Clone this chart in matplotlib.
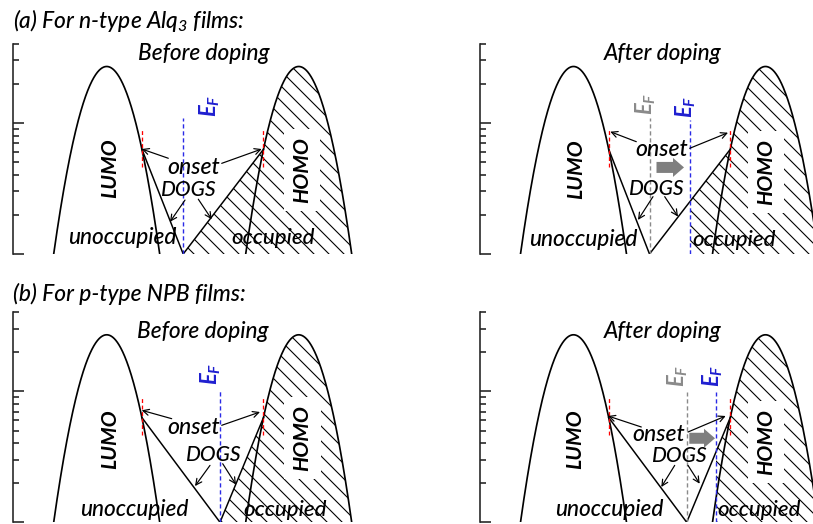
import numpy as np
import matplotlib
matplotlib.use('Agg')
import matplotlib.pyplot as plt
from matplotlib.ticker import LogLocator, NullFormatter

W, H, DPI = 813, 524, 90


def P(px):
    """pixels -> points"""
    return px * 72.0 / DPI


plt.rcParams['font.family'] = ['Lato', 'DejaVu Sans']
plt.rcParams['mathtext.fontset'] = 'custom'
plt.rcParams['mathtext.rm'] = 'Lato:italic:medium'
plt.rcParams['mathtext.it'] = 'Lato:italic:bold'
plt.rcParams['mathtext.bf'] = 'Lato:bold'
plt.rcParams['hatch.linewidth'] = P(1.1)

# ---------------- data (energy in arbitrary units, DOS on log scale) ----------------
row_titles = [r'(a) For n-type Alq$_{3}$ films:', '(b) For p-type NPB films:']
panel_titles = ['Before doping', 'After doping', 'Before doping', 'After doping']
LUMO_CENTER = 94.0
HOMO_CENTER = 286.0
PEAK_DOS = 27.0
HALF_BASE = 53.0          # peak-to-edge distance where DOS falls to the axis minimum
ONSET_DOS = 6.3
V_BOTTOM = [170.5, 170.0, 207.3, 207.2]       # minimum of the gap states (DOGS)
EF_NEW = [170.5, 210.5, 207.3, 236.5]         # Fermi level
EF_OLD = [None, 170.0, None, 207.2]           # Fermi level before doping
Y_MIN, Y_MAX = 1.0, 40.0
X_MAX = 350.0

# ---------------- layout ----------------
W_TXT = 'medium'
FS_TITLE = P(22.8)
FS_PANEL = P(22.6)
FS_ONSET = P(23.0)
FS_DOGS = P(21.0)
FS_UNOCC = P(22.6)
FS_OCC = P(22.3)
FS_ORB = P(21.3)
FS_EF = P(22.0)

SIGMA2 = HALF_BASE ** 2 / (2 * np.log(PEAK_DOS))


def gauss(x, c):
    return PEAK_DOS * np.exp(-(x - c) ** 2 / (2 * SIGMA2))


d_on = np.sqrt(2 * SIGMA2 * np.log(PEAK_DOS / ONSET_DOS))
LUMO_ON = LUMO_CENTER + d_on
HOMO_ON = HOMO_CENTER - d_on

panel_px = [(12.7, 254.0), (479.5, 254.0), (12.7, 522.3), (479.5, 522.3)]
DEC = 131.0
height_px = DEC * np.log10(Y_MAX / Y_MIN)

title_pos = [(190.6, 34.0), (183.5, 34.0), (189.8, 28.8), (183.5, 28.8)]
ef_new_lab = [(197.5, 13.5), (206.5, 13.3), (197.8, 13.6), (233.0, 13.0)]
ef_old_lab = [None, (166.0, 13.9), None, (198.0, 13.0)]
ef_new_top = [10.9, 10.5, 10.47, 9.93]
ef_old_top = [None, 10.9, None, 9.93]
lumo_lab = [(97.3, 4.53), (96.8, 4.45), (97.3, 4.29), (96.0, 4.29)]
homo_lab = [(289.0, 4.38), (286.8, 4.20), (289.8, 4.40), (286.8, 4.10)]
onset_lab = [(180.6, 4.61), (181.8, 6.33), (180.6, 5.26), (179.3, 4.68)]
dogs_lab = [(174.8, 3.08), (176.8, 3.13), (200.6, 3.25), (199.3, 3.20)]
unocc_lab = [(109.8, 1.325), (103.5, 1.28), (121.5, 1.25), (129.3, 1.25)]
occ_lab = [(260.6, 1.325), (254.3, 1.28), (272.3, 1.25), (279.3, 1.25)]
arr_onL = [((155.6, 5.38), (129.0, 6.33)), ((156.8, 7.20), (130.8, 8.58)),
           ((159.0, 6.18), (129.0, 7.16)), ((161.8, 5.34), (128.5, 6.48))]
arr_onH = [((209.0, 4.92), (249.0, 6.33)), ((210.2, 6.41), (248.5, 8.43)),
           ((209.0, 5.50), (247.3, 6.95)), ((208.5, 4.89), (246.2, 6.48))]
arr_dL = [((172.3, 2.58), (157.3, 1.76)), ((173.5, 2.74), (158.5, 1.82)),
          ((197.3, 2.72), (182.3, 1.89)), ((195.2, 2.72), (181.8, 1.86))]
arr_dR = [((185.6, 2.62), (199.0, 1.84)), ((185.2, 2.74), (198.5, 1.93)),
          ((210.0, 2.80), (223.3, 1.94)), ((208.5, 2.72), (220.2, 1.97))]
shift_arrow = [None, ((177.0, 4.58), (204.5, 4.58)), None, ((209.8, 4.38), (235.5, 4.38))]

fig = plt.figure(figsize=(W / DPI, H / DPI), dpi=DPI)
fig.patch.set_facecolor('white')

fig.text(13 / W, 1 - 20 / H, row_titles[0], fontsize=FS_TITLE, style='italic', weight=W_TXT,
         va='center', ha='left')
fig.text(13 / W, 1 - 293.5 / H, row_titles[1], fontsize=FS_TITLE, style='italic', weight=W_TXT,
         va='center', ha='left')

for i in range(4):
    lx, by = panel_px[i]
    ax = fig.add_axes([lx / W, 1 - by / H, X_MAX / W, height_px / H])
    ax.set_yscale('log')
    ax.set_xlim(0, X_MAX)
    ax.set_ylim(Y_MIN, Y_MAX)
    ax.patch.set_visible(False)
    for s in ['top', 'right', 'bottom']:
        ax.spines[s].set_visible(False)
    ax.spines['left'].set_linewidth(P(1.6))
    ax.spines['left'].set_color('#222222')
    ax.yaxis.set_major_locator(LogLocator(base=10, numticks=10))
    ax.yaxis.set_minor_locator(LogLocator(base=10, subs=np.arange(2, 10), numticks=20))
    ax.yaxis.set_minor_formatter(NullFormatter())
    ax.tick_params(axis='y', which='major', direction='in', length=P(10.7), width=P(1.6),
                   color='#222222', labelleft=False)
    ax.tick_params(axis='y', which='minor', direction='in', length=P(5.5), width=P(1.6),
                   color='#222222', labelleft=False)
    ax.set_xticks([])

    # occupied (hatched) region
    x_h = np.linspace(EF_NEW[i], HOMO_CENTER + HALF_BASE, 600)
    dogs_r = ONSET_DOS ** ((x_h - V_BOTTOM[i]) / (HOMO_ON - V_BOTTOM[i]))
    env = np.where(x_h < HOMO_ON, dogs_r, gauss(x_h, HOMO_CENTER))
    ax.fill_between(x_h, Y_MIN, env, facecolor='none', edgecolor='black',
                    linewidth=0, hatch='\\\\')

    # LUMO / HOMO Gaussians
    for c in (LUMO_CENTER, HOMO_CENTER):
        xx = np.linspace(c - HALF_BASE, c + HALF_BASE, 500)
        ax.plot(xx, gauss(xx, c), color='black', lw=P(1.7))
    # DOGS tails
    ax.plot([LUMO_ON, V_BOTTOM[i], HOMO_ON], [ONSET_DOS, Y_MIN, ONSET_DOS], color='black', lw=P(1.5))

    # onset markers
    for xo in (LUMO_ON, HOMO_ON):
        ax.plot([xo, xo], [4.62, 8.83], color='red', lw=P(1.3), ls=(0, (3, 2)))

    # Fermi levels
    if EF_OLD[i] is not None:
        ax.plot([EF_OLD[i], EF_OLD[i]], [Y_MIN, ef_old_top[i]], color='#8a8a8a', lw=P(1.4), ls=(0, (3, 2)))
        ax.text(*ef_old_lab[i], r'$E_F$', color='#8a8a8a', fontsize=FS_EF, rotation=90,
                ha='center', va='center')
    ax.plot([EF_NEW[i], EF_NEW[i]], [Y_MIN, ef_new_top[i]], color='#2a2ae6', lw=P(1.4), ls=(0, (3, 2)))
    ax.text(*ef_new_lab[i], r'$E_F$', color='#1f1fd0', fontsize=FS_EF, rotation=90,
            ha='center', va='center')

    kw = dict(style='italic', weight=W_TXT, ha='center', va='center')
    ax.text(*title_pos[i], panel_titles[i], fontsize=FS_PANEL, **kw)
    ax.text(*lumo_lab[i], 'LUMO', fontsize=FS_ORB, style='italic', weight='bold',
            rotation=90, ha='center', va='center')
    ax.text(*homo_lab[i], 'HOMO', fontsize=FS_ORB, style='italic', weight='bold',
            rotation=90, ha='center', va='center',
            bbox=dict(facecolor='white', edgecolor='none', pad=P(8)))
    ax.text(*onset_lab[i], 'onset', fontsize=FS_ONSET, **kw)
    ax.text(*dogs_lab[i], 'DOGS', fontsize=FS_DOGS, **kw)
    ax.text(*unocc_lab[i], 'unoccupied', fontsize=FS_UNOCC, **kw)
    ax.text(*occ_lab[i], 'occupied', fontsize=FS_OCC, **kw)

    for (tail, head) in (arr_onL[i], arr_onH[i], arr_dL[i], arr_dR[i]):
        ax.annotate('', xy=head, xytext=tail,
                    arrowprops=dict(arrowstyle='->', lw=P(1.2), color='black',
                                    shrinkA=0, shrinkB=0, mutation_scale=P(15)))
    if shift_arrow[i] is not None:
        tail, head = shift_arrow[i]
        ax.annotate('', xy=head, xytext=tail,
                    arrowprops=dict(arrowstyle='simple,head_length=%.2f,head_width=%.2f,tail_width=%.2f'
                                    % (P(11), P(19), P(11)),
                                    fc='#7f7f7f', ec='none', shrinkA=0, shrinkB=0,
                                    mutation_scale=1))

fig.savefig('out.png', dpi=DPI)
